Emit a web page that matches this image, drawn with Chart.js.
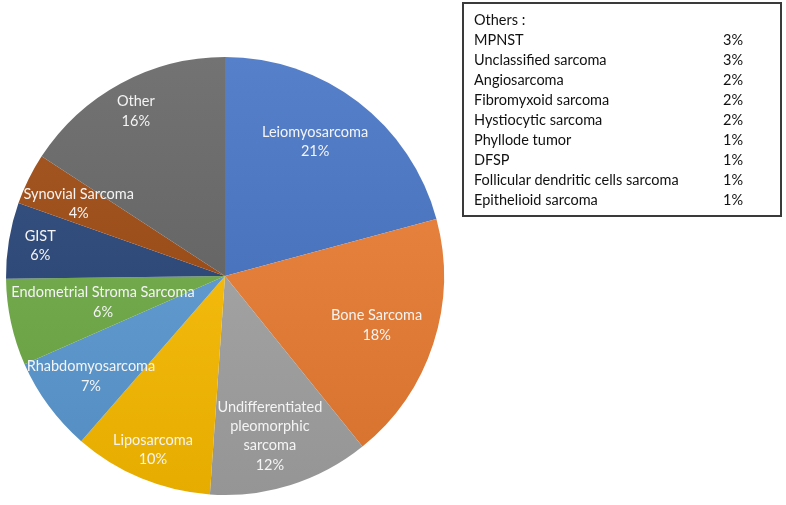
<!DOCTYPE html>
<html>
<head>
<meta charset="utf-8">
<script src="https://cdn.jsdelivr.net/npm/chart.js@4.4.1/dist/chart.umd.min.js"></script>
<style>
  html, body { margin: 0; padding: 0; background: #ffffff; }
  #wrap { position: relative; width: 786px; height: 505px; }
  #c { position: absolute; left: 0; top: 0; }
  #others {
    position: absolute; left: 462px; top: 2px; width: 316px; height: 211px;
    border: 2px solid #3a3a3a; box-sizing: content-box;
    font-family: Lato, "Open Sans", sans-serif; font-size: 14.5px; color: #111;
  }
  #others .row { position: absolute; left: 10px; height: 20px; line-height: 20px; white-space: nowrap; }
  #others .val { position: absolute; left: 259px; height: 20px; line-height: 20px; }
</style>
</head>
<body>
<div id="wrap">
  <canvas id="c" width="786" height="505"></canvas>
  <div id="others"></div>
</div>
<script>
// ---- data ----
const categories = [
  'Leiomyosarcoma',
  'Bone Sarcoma',
  ['Undifferentiated', 'pleomorphic', 'sarcoma'],
  'Liposarcoma',
  'Rhabdomyosarcoma',
  'Endometrial Stroma Sarcoma',
  'GIST',
  'Synovial Sarcoma',
  'Other'
];
// slice sizes (percent)
const shares = [20.8, 18.4, 11.9, 10.3, 7.0, 6.4, 5.6, 3.8, 15.8];

const otherTitle = 'Others :';
const otherNames = [
  'MPNST',
  'Unclassified sarcoma',
  'Angiosarcoma',
  'Fibromyxoid sarcoma',
  'Hystiocytic sarcoma',
  'Phyllode tumor',
  'DFSP',
  'Follicular dendritic cells sarcoma',
  'Epithelioid sarcoma'
];
const otherShares = [3, 3, 2, 2, 2, 1, 1, 1, 1];

// ---- styles ----
const baseColors = ['#4472C4','#ED7D31','#A5A5A5','#FFC000','#5B9BD5','#70AD47','#264478','#9E480E','#636363'];
const labelRadius = [0.737, 0.728, 0.759, 0.86, 0.765, 0.57, 0.855, 0.745, 0.855];
const labelAngleShift = [-3.5, 0, 1.8, 0, -0.5, 0, 0, 0, 0]; // degrees

function hexToRgb(h){ const n=parseInt(h.slice(1),16); return [(n>>16)&255,(n>>8)&255,n&255]; }
function mix(h, t, a){ const c=hexToRgb(h); return 'rgb(' + c.map((v,i)=>Math.round(v+(t[i]-v)*a)).join(',') + ')'; }

// Others box
const box = document.getElementById('others');
function addRow(name, val, i){
  const top = 6 + i*20;
  const r = document.createElement('div'); r.className='row'; r.style.top = top+'px'; r.textContent = name; box.appendChild(r);
  if (val !== null){ const v=document.createElement('div'); v.className='val'; v.style.top=top+'px'; v.textContent = val + '%'; box.appendChild(v); }
}
addRow(otherTitle, null, 0);
otherNames.forEach((n,i)=>addRow(n, otherShares[i], i+1));

const labelPlugin = {
  id: 'sliceLabels',
  afterDatasetsDraw(chart){
    const c = chart.ctx;
    const meta = chart.getDatasetMeta(0);
    const data = chart.data.datasets[0].data;
    c.save();
    c.font = '14.5px Lato, "Open Sans", sans-serif';
    c.fillStyle = '#f4f4f4';
    c.textAlign = 'center';
    c.textBaseline = 'middle';
    meta.data.forEach((arc, i) => {
      const p = arc.getProps(['x','y','startAngle','endAngle','outerRadius'], true);
      const mid = (p.startAngle + p.endAngle)/2 + labelAngleShift[i]*Math.PI/180;
      const r = p.outerRadius * labelRadius[i];
      const x = p.x + Math.cos(mid)*r;
      const y = p.y + Math.sin(mid)*r;
      const lab = chart.data.labels[i];
      const lines = (Array.isArray(lab) ? lab.slice() : [lab]);
      lines.push(Math.round(data[i]) + '%');
      const lh = 19.4;
      const y0 = y - (lines.length-1)*lh/2;
      lines.forEach((t, k) => c.fillText(t, x, y0 + k*lh));
    });
    c.restore();
  }
};

new Chart(document.getElementById('c'), {
  type: 'pie',
  data: {
    labels: categories,
    datasets: [{
      data: shares,
      backgroundColor: (ctx) => {
        const chart = ctx.chart, area = chart.chartArea;
        const b = baseColors[ctx.dataIndex];
        if (!area) return b;
        const g = chart.ctx.createLinearGradient(0, area.top, 0, area.bottom);
        g.addColorStop(0, mix(b, [255,255,255], 0.1));
        g.addColorStop(1, mix(b, [0,0,0], 0.1));
        return g;
      },
      borderWidth: 0
    }]
  },
  options: {
    responsive: false,
    animation: false,
    layout: { padding: { left: 6, top: 57, bottom: 10, right: 342 } },
    plugins: { legend: { display: false }, tooltip: { enabled: false } }
  },
  plugins: [labelPlugin]
});
</script>
</body>
</html>
